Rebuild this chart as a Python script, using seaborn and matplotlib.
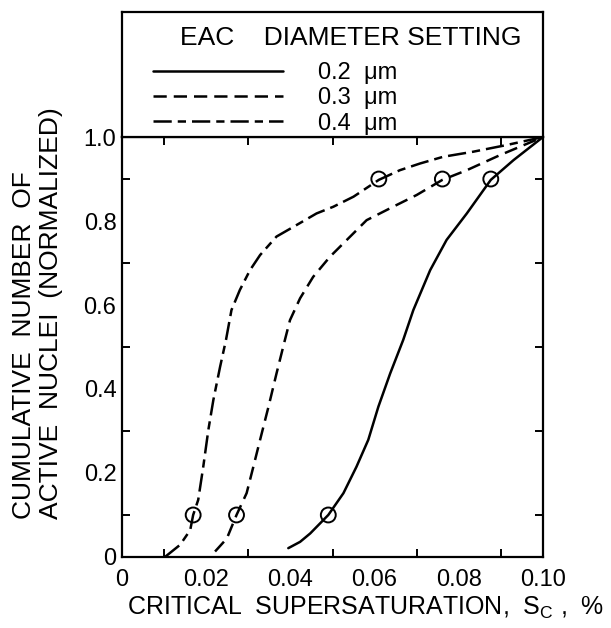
import matplotlib
matplotlib.use("Agg")
import matplotlib.pyplot as plt
import seaborn as sns
import pandas as pd

# curves (critical supersaturation %, normalized cumulative count)
sc_02 = [0.0395, 0.0423, 0.0447, 0.049, 0.0526, 0.0557, 0.0585, 0.0609, 0.0637, 0.0668,
         0.0692, 0.0732, 0.0771, 0.0819, 0.0876, 0.093, 0.100]
n_02 = [0.021, 0.036, 0.056, 0.10, 0.152, 0.215, 0.279, 0.358, 0.437, 0.517,
        0.588, 0.683, 0.755, 0.818, 0.898, 0.945, 1.0]

sc_03 = [0.0221, 0.0249, 0.0272, 0.0296, 0.0312, 0.0328, 0.0348, 0.0367, 0.0387, 0.0399,
         0.0423, 0.0454, 0.0494, 0.0542, 0.0581, 0.0644, 0.070, 0.0761, 0.0819, 0.0898, 0.100]
n_03 = [0.013, 0.044, 0.10, 0.152, 0.215, 0.279, 0.358, 0.437, 0.517, 0.564,
        0.616, 0.667, 0.715, 0.763, 0.802, 0.834, 0.862, 0.898, 0.921, 0.957, 1.0]

sc_04 = [0.0102, 0.0138, 0.0162, 0.0169, 0.0181, 0.0193, 0.0205, 0.0217, 0.0233, 0.0247,
         0.026, 0.028, 0.0304, 0.0328, 0.0367, 0.0407, 0.0462, 0.0502, 0.055, 0.061,
         0.066, 0.0708, 0.0763, 0.0834, 0.0914, 0.100]
n_04 = [0.0, 0.029, 0.064, 0.10, 0.136, 0.215, 0.302, 0.374, 0.453, 0.517,
        0.588, 0.636, 0.683, 0.719, 0.763, 0.786, 0.818, 0.834, 0.858, 0.898,
        0.921, 0.937, 0.953, 0.965, 0.981, 1.0]

# open circles (10% and 90% points)
circle_sc = [0.0169, 0.061, 0.0272, 0.0761, 0.049, 0.0876]
circle_n = [0.10, 0.90, 0.10, 0.90, 0.10, 0.90]

series_labels = ["0.2  μm", "0.3  μm", "0.4  μm"]
x_ticks = [0, 0.02, 0.04, 0.06, 0.08, 0.10]
x_ticklabels = ["0", "0.02", "0.04", "0.06", "0.08", "0.10"]
y_ticks = [0, 0.2, 0.4, 0.6, 0.8, 1.0]
y_ticklabels = ["0", "0.2", "0.4", "0.6", "0.8", "1.0"]

sns.set_style("ticks", {"axes.edgecolor": "black", "text.color": "black",
                        "xtick.color": "black", "ytick.color": "black"})
plt.rcParams["font.family"] = ["Liberation Sans", "DejaVu Sans"]
plt.rcParams["mathtext.default"] = "regular"

fig = plt.figure(figsize=(6.11, 6.28), dpi=100)
ax = fig.add_axes([0.1997, 0.1131, 0.689, 0.6687])
ax_top = fig.add_axes([0.1997, 0.7818, 0.689, 0.1992])

styles = [dict(linestyle="-"),
          dict(dashes=(5.3, 2.8)),
          dict(dashes=(7.3, 2.4, 3.3, 2.4))]
for sc, n, lab, st in zip([sc_02, sc_03, sc_04], [n_02, n_03, n_04], series_labels, styles):
    df = pd.DataFrame({"sc": sc, "n": n})
    sns.lineplot(data=df, x="sc", y="n", sort=False, color="black", linewidth=1.8,
                 label=lab, ax=ax, **st)

sns.scatterplot(x=circle_sc, y=circle_n, marker="o", s=115, facecolor="none",
                edgecolor="black", linewidth=1.4, ax=ax, zorder=5)

ax.set_xlim(0, 0.10)
ax.set_ylim(0, 1.0)
ax.set_xticks([i / 100 for i in range(11)], minor=True)
ax.set_yticks([i / 10 for i in range(11)], minor=True)
ax.set_xticks(x_ticks)
ax.set_xticklabels(x_ticklabels)
ax.set_yticks(y_ticks)
ax.set_yticklabels(y_ticklabels)
ax.tick_params(which="both", direction="in", top=True, right=True, length=6, width=1.4,
               labelsize=17, labelcolor="black")
ax.tick_params(which="major", length=0, top=False, right=False)
ax.tick_params(axis="x", which="major", pad=9)
ax.tick_params(axis="y", which="major", pad=4)
ax.set_xlabel("")
ax.set_ylabel("")
for sp in ax.spines.values():
    sp.set_linewidth(1.6)

handles, labels = ax.get_legend_handles_labels()
ax.get_legend().remove()

ax_top.set_xticks([])
ax_top.set_yticks([])
for sp in ax_top.spines.values():
    sp.set_linewidth(1.6)
ax_top.legend(handles[:3], labels[:3], loc="upper left", bbox_to_anchor=(0.0736, 0.60),
              frameon=False, fontsize=17, handlelength=5.5, handletextpad=1.5,
              labelspacing=0.14, borderpad=0, borderaxespad=0)
ax_top.text(0.138, 0.736, "EAC    DIAMETER SETTING", transform=ax_top.transAxes,
            fontsize=19, va="baseline", ha="left")

fig.text(0.598, 0.032, "CRITICAL  SUPERSATURATION,  S$_C$ ,  %", fontsize=18,
         ha="center", va="center")
fig.text(0.062, 0.1736, "CUMULATIVE  NUMBER  OF\nACTIVE  NUCLEI  (NORMALIZED)", fontsize=19,
         rotation=90, ha="center", va="bottom", multialignment="left", linespacing=1.15)

fig.savefig("out.png", dpi=100)
